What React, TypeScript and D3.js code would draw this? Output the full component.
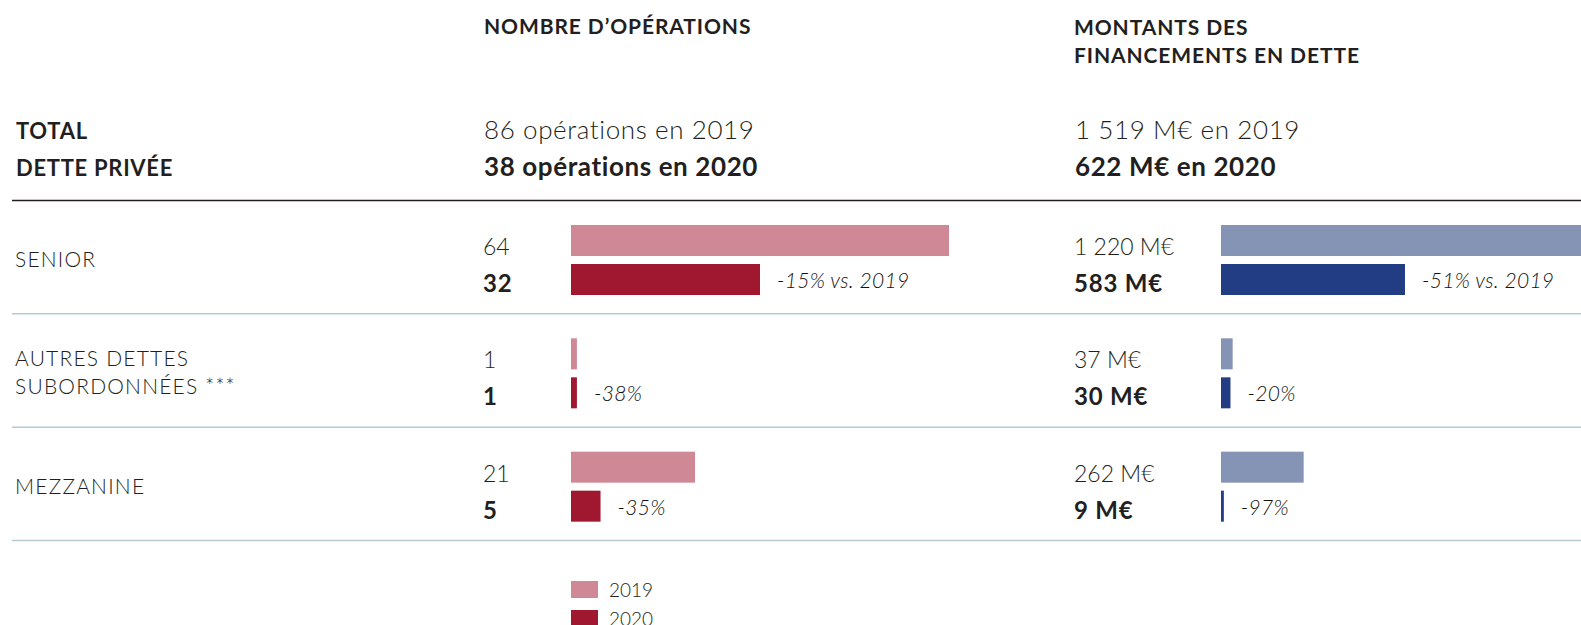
import React from "react";
import * as d3 from "d3";

// données
const categories = ["SENIOR", "AUTRES DETTES|SUBORDONNÉES ***", "MEZZANINE"];
const years = ["2019", "2020"];
const ops2019 = [64, 1, 21];
const ops2020 = [32, 1, 5];
const amt2019 = [1220, 37, 262];
const amt2020 = [583, 30, 9];
const opsChange = ["-15% vs. 2019", "-38%", "-35%"];
const amtChange = ["-51% vs. 2019", "-20%", "-97%"];
const amtLabels2019 = ["1 220 M€", "37 M€", "262 M€"];
const amtLabels2020 = ["583 M€", "30 M€", "9 M€"];

const W = 1581;
const H = 625;
const FONT = "Lato, 'Open Sans', sans-serif";
const TXT = "#231f20";

const pink = "#cf8996";
const red = "#a01830";
const lightBlue = "#8593b5";
const blue = "#223d84";

const App = () => {
  const rowY = d3.scaleBand<string>().domain(categories).range([200.5, 540.5]);
  const yearY = d3
    .scaleBand<string>()
    .domain(years)
    .range([24.5, 94.5])
    .paddingInner(8 / 39);

  const xOps = d3.scaleLinear().domain([0, d3.max(ops2019)!]).range([0, 378]);
  const xAmt = d3.scaleLinear().domain([0, d3.max(amt2019)!]).range([0, 385]);

  const panels = [
    {
      x0: 571,
      labelX: 483,
      scale: xOps,
      v19: ops2019,
      v20: ops2020,
      l19: ops2019.map(String),
      l20: ops2020.map(String),
      change: opsChange,
      c19: pink,
      c20: red,
    },
    {
      x0: 1221,
      labelX: 1074,
      scale: xAmt,
      v19: amt2019,
      v20: amt2020,
      l19: amtLabels2019,
      l20: amtLabels2020,
      change: amtChange,
      c19: lightBlue,
      c20: blue,
    },
  ];

  return (
    <div style={{ position: "absolute", left: 0, top: 0 }}>
      <svg width={W} height={H} style={{ display: "block", fontFamily: FONT }}>
        <rect width={W} height={H} fill="#fff" />

        {/* en-têtes */}
        <g fill={TXT} fontWeight={700} fontSize={21} letterSpacing={0.9}>
          <text x={484} y={34}>NOMBRE D’OPÉRATIONS</text>
          <text x={1074} y={35}>MONTANTS DES</text>
          <text x={1074} y={63}>FINANCEMENTS EN DETTE</text>
        </g>
        <g fill={TXT} fontWeight={700} fontSize={22} letterSpacing={0.7}>
          <text x={16} y={139}>TOTAL</text>
          <text x={16} y={176}>DETTE PRIVÉE</text>
        </g>
        <g fill={TXT} fontSize={26} letterSpacing={0.6}>
          <text x={484} y={139} fontWeight={300}>86 opérations en 2019</text>
          <text x={484} y={176} fontWeight={700}>38 opérations en 2020</text>
          <text x={1075} y={139} fontWeight={300}>1 519 M€ en 2019</text>
          <text x={1075} y={176} fontWeight={700}>622 M€ en 2020</text>
        </g>
        <line x1={12} x2={W} y1={200.5} y2={200.5} stroke="#231f20" strokeWidth={1.3} />

        {/* lignes */}
        {categories.map((c, i) => {
          const y0 = rowY(c)!;
          const lines = c.split("|");
          return (
            <g key={c}>
              <text fill={TXT} fontWeight={300} fontSize={21} letterSpacing={1.2}>
                {lines.map((t, k) => (
                  <tspan
                    key={k}
                    x={15}
                    y={y0 + (lines.length === 1 ? 66.5 : 52 + k * 28.5)}
                  >
                    {t}
                  </tspan>
                ))}
              </text>
              <line
                x1={12}
                x2={W}
                y1={y0 + rowY.bandwidth()}
                y2={y0 + rowY.bandwidth()}
                stroke="#b8c9d6"
                strokeWidth={1.5}
              />
              {panels.map((p, j) => {
                const w20 = p.scale(p.v20[i]);
                return (
                  <g key={j}>
                    <rect
                      x={p.x0}
                      y={y0 + yearY("2019")!}
                      width={p.scale(p.v19[i])}
                      height={yearY.bandwidth()}
                      fill={p.c19}
                    />
                    <rect
                      x={p.x0}
                      y={y0 + yearY("2020")!}
                      width={w20}
                      height={yearY.bandwidth()}
                      fill={p.c20}
                    />
                    <text
                      x={p.labelX}
                      y={y0 + 54.5}
                      fill={TXT}
                      fontWeight={300}
                      fontSize={23}
                    >
                      {p.l19[i]}
                    </text>
                    <text
                      x={p.labelX}
                      y={y0 + 91.5}
                      fill={TXT}
                      fontWeight={700}
                      fontSize={24}
                      letterSpacing={0.8}
                    >
                      {p.l20[i]}
                    </text>
                    <text
                      x={p.x0 + w20 + 17}
                      y={y0 + 87.5}
                      fill="#111"
                      fontWeight={300}
                      fontStyle="italic"
                      fontSize={21}
                      letterSpacing={0.3}
                    >
                      {p.change[i]}
                    </text>
                  </g>
                );
              })}
            </g>
          );
        })}

        {/* légende */}
        {years.map((yr, k) => (
          <g key={yr} transform={`translate(571,${581 + k * 29})`}>
            <rect width={27} height={17} fill={k === 0 ? pink : red} />
            <text x={38} y={16} fill={TXT} fontWeight={300} fontSize={19}>
              {yr}
            </text>
          </g>
        ))}
      </svg>
    </div>
  );
};

export default App;
